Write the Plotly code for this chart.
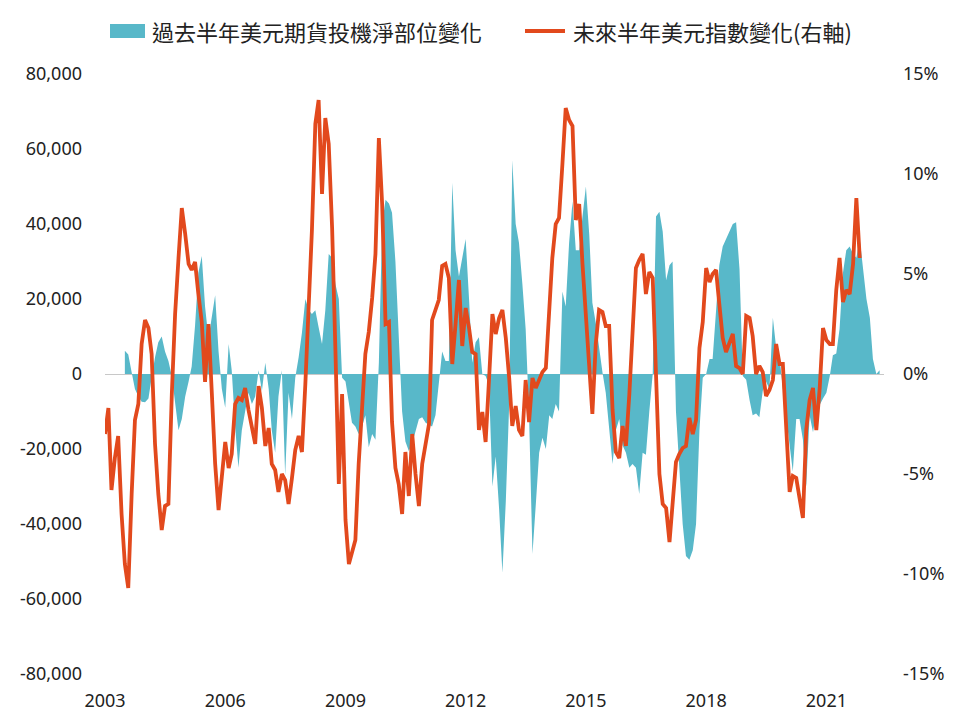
import pandas as pd
import plotly.graph_objects as go

# ---- data ----
# 過去半年美元期貨投機淨部位變化 (contracts), monthly from 2003-07 to 2022-05
area_start = "2003-07-01"
position_change = [
    6200, 5200, 500, -4000, -6000, -7400,
    -7500, -6500, -1000, 4500, 8500, 10000, 6000, 3500, -500, -7500, -15000, -12000,
    -6000, -2000, 2000, 13000, 27000, 31500, 18000, 9500, 15000, 21000, 6000, -4000,
    -9000, 8000, 1000, -14000, -25000, -15000, -10000, -5000, -8000, -6000, 1000, -4500,
    3000, -4000, -15000, -21000, -6000, 1000, -27000, -5000, -12000, -1000, 4500, 11000,
    20000, 17000, 16000, 17000, 12500, 8000, 17000, 32000, 31000, 24000, 20000, -1000,
    -2000, -8000, -13000, -14000, -16000, -14000, -11000, -19500, -16000, -17500, 3000, 40000,
    46500, 45500, 43000, 30000, 12000, -10000, -18000, -20500, -18500, -15000, -12000, -11500,
    -13000, -13500, -14000, -11000, -3000, 6000, 3500, 3500, 51000, 33000, 26000, 31000,
    36000, 20000, 3000, 8500, 9800, 0, -500, -3000, -30000, -22000, -36000, -53000,
    -34000, -8000, 57000, 40000, 35000, 24000, 12000, -11000, -48000, -35000, -21000, -17000,
    -20000, -11000, -12000, -8000, -10000, 22000, 18000, 35000, 46000, 33000, 33000, 42000,
    50000, 37000, 19000, 13600, 6500, 500, -5000, -14000, -24000, -15000, -12000, -19000,
    -21000, -25000, -24000, -25000, -32000, -21000, -21500, -10000, 0, 42000, 43300, 38000,
    25000, 29000, 30000, -10000, -25000, -40000, -48500, -49500, -47000, -40000, -15000, -1000,
    0, 4000, 4000, 18000, 29000, 34000, 36000, 38000, 40000, 40500, 28000, -500,
    -1500, -7000, -11000, -10500, -11500, -4500, -2000, -4000, 15000, 7000, 4500, -4000,
    -11000, -18000, -26000, -12000, -12000, -17500, -30000, -11000, -15500, -10000, -8000, -6500,
    -5000, -500, 5000, 5500, 12000, 27000, 33000, 34000, 32000, 31000, 36000, 28000,
    20000, 15000, 4000, 0, 1000,
]

# 未來半年美元指數變化 (%), monthly from 2003-01 to 2021-11
line_start = "2003-01-01"
dxy_change = [
    -3.0, -1.7, -5.8, -4.2, -3.1, -7.0, -9.5, -10.7, -6.0, -2.3, -1.5, 1.5,
    2.7, 2.3, 1.0, -3.5, -6.0, -7.8, -6.6, -6.5, -1.0, 3.0, 5.8, 8.3,
    7.0, 5.5, 5.2, 5.6, 4.0, 2.6, -0.4, 2.5, -1.0, -4.5, -6.8, -5.0,
    -3.4, -4.7, -4.0, -1.5, -1.2, -1.3, -0.7, -1.8, -2.8, -3.5, -0.6, -1.7,
    -3.6, -2.7, -4.5, -4.8, -5.9, -5.0, -5.3, -6.5, -5.2, -3.8, -3.1, -3.9,
    -0.5, 3.5, 7.2, 12.5, 13.7, 9.0, 12.8, 11.5, 7.3, 1.2, -5.5, -1.0,
    -7.3, -9.5, -9.0, -8.3, -4.5, -1.5, 1.0, 2.1, 3.8, 6.0, 11.8, 8.5,
    2.5, 2.6, -2.4, -4.7, -5.5, -7.0, -3.9, -6.1, -3.0, -5.0, -6.6, -4.5,
    -3.6, -2.5, 2.7, 3.2, 3.7, 5.4, 5.5, 4.8, 0.5, 2.5, 4.7, 1.4,
    3.3, 2.3, 1.1, 1.0, -2.8, -1.9, -3.4, -0.3, 3.0, 2.0, 2.8, 3.2,
    1.8, -0.2, -2.6, -1.6, -2.8, -3.1, -0.3, -2.4, -0.2, -0.7, -0.3, 0.1,
    0.3, 3.0, 5.8, 7.5, 7.8, 10.5, 13.3, 12.7, 12.4, 7.7, 8.5, 5.5,
    3.0, 0.5, -2.0, 1.5, 3.2, 3.1, 2.4, 2.4, -1.8, -3.9, -4.2, -2.6,
    -3.6, -1.0, 1.8, 5.3, 5.7, 6.0, 4.0, 5.1, 4.8, 0.0, -5.0, -6.5,
    -6.7, -8.4, -6.5, -4.4, -4.0, -3.7, -3.6, -2.2, -3.0, -2.3, 1.3, 2.6,
    5.3, 4.6, 5.0, 5.2, 3.5, 1.8, 1.1, 1.5, 2.0, 0.4, 0.3, 0.0,
    2.9, 2.8, 1.9, 0.0, 0.4, 0.1, -1.1, -0.8, -0.3, 1.5, 0.5, 0.5,
    -3.0, -5.9, -5.1, -5.2, -6.2, -7.2, -2.8, -1.3, -0.7, -2.8, -0.7, 2.3,
    1.7, 1.5, 1.5, 4.2, 5.8, 3.6, 4.2, 4.0, 5.5, 8.8, 5.8,
]

area_name = "過去半年美元期貨投機淨部位變化"
line_name = "未來半年美元指數變化(右軸)"
year_ticks = ["2003", "2006", "2009", "2012", "2015", "2018", "2021"]
left_ticks = [80000, 60000, 40000, 20000, 0, -20000, -40000, -60000, -80000]
right_ticks = [15, 10, 5, 0, -5, -10, -15]

TEAL = "#58B8C9"
RED = "#E2491D"
FONT = "Noto Sans, Noto Sans CJK TC, sans-serif"
CJK = "Noto Sans CJK TC, Noto Sans, sans-serif"

W, H = 960, 726
ML, MR, MT, MB = 105, 76, 74, 52
PW, PH = W - ML - MR, H - MT - MB


def px_x(p):
    return (p - ML) / PW


def px_y(p):
    return (H - MB - p) / PH


area_dates = pd.date_range(area_start, periods=len(position_change), freq="MS")
line_dates = pd.date_range(line_start, periods=len(dxy_change), freq="MS")

fig = go.Figure()
fig.add_trace(go.Scatter(
    x=area_dates, y=position_change, mode="lines", fill="tozeroy",
    fillcolor=TEAL, line=dict(width=0, color=TEAL),
    showlegend=False, name=area_name,
))
fig.add_trace(go.Scatter(
    x=line_dates, y=dxy_change, mode="lines", yaxis="y2",
    line=dict(width=3.8, color=RED), name=line_name, showlegend=False,
))

# legend drawn as shapes + text
leg_y = 31
fig.add_shape(type="rect", xref="paper", yref="paper",
              x0=px_x(110), x1=px_x(145), y0=px_y(38), y1=px_y(24),
              fillcolor=TEAL, line=dict(width=0))
fig.add_shape(type="line", xref="paper", yref="paper",
              x0=px_x(525), x1=px_x(565), y0=px_y(leg_y), y1=px_y(leg_y),
              line=dict(width=3.8, color=RED))
fig.add_annotation(text=area_name, xref="paper", yref="paper",
                   x=px_x(150), y=px_y(leg_y), xanchor="left", yanchor="middle",
                   showarrow=False, font=dict(family=CJK, size=22, color="#222"))
fig.add_annotation(text=line_name, xref="paper", yref="paper",
                   x=px_x(571), y=px_y(leg_y), xanchor="left", yanchor="middle",
                   showarrow=False, font=dict(family=CJK, size=22, color="#222"))

fig.update_layout(
    width=W, height=H,
    margin=dict(l=ML, r=MR, t=MT, b=MB),
    plot_bgcolor="white", paper_bgcolor="white",
    font=dict(family=FONT, size=18, color="#222"),
    showlegend=False,
    xaxis=dict(
        type="date", range=["2003-01-01", "2022-06-10"],
        tickvals=[f"{y}-01-01" for y in year_ticks], ticktext=year_ticks,
        showgrid=False, showline=False, zeroline=False, ticks="",
        ticklabelstandoff=14,
    ),
    yaxis=dict(
        range=[-80000, 80000], tickvals=left_ticks,
        ticktext=[f"{v:,}" for v in left_ticks],
        showgrid=False, showline=False, ticks="",
        zeroline=True, zerolinecolor="#C8C8C8", zerolinewidth=1,
        ticklabelstandoff=22,
    ),
    yaxis2=dict(
        range=[-15, 15], overlaying="y", side="right", tickvals=right_ticks,
        ticktext=[f"{v}%" for v in right_ticks],
        showgrid=False, showline=False, ticks="", zeroline=False,
        ticklabelstandoff=18,
    ),
)

fig.write_html("out.html")
